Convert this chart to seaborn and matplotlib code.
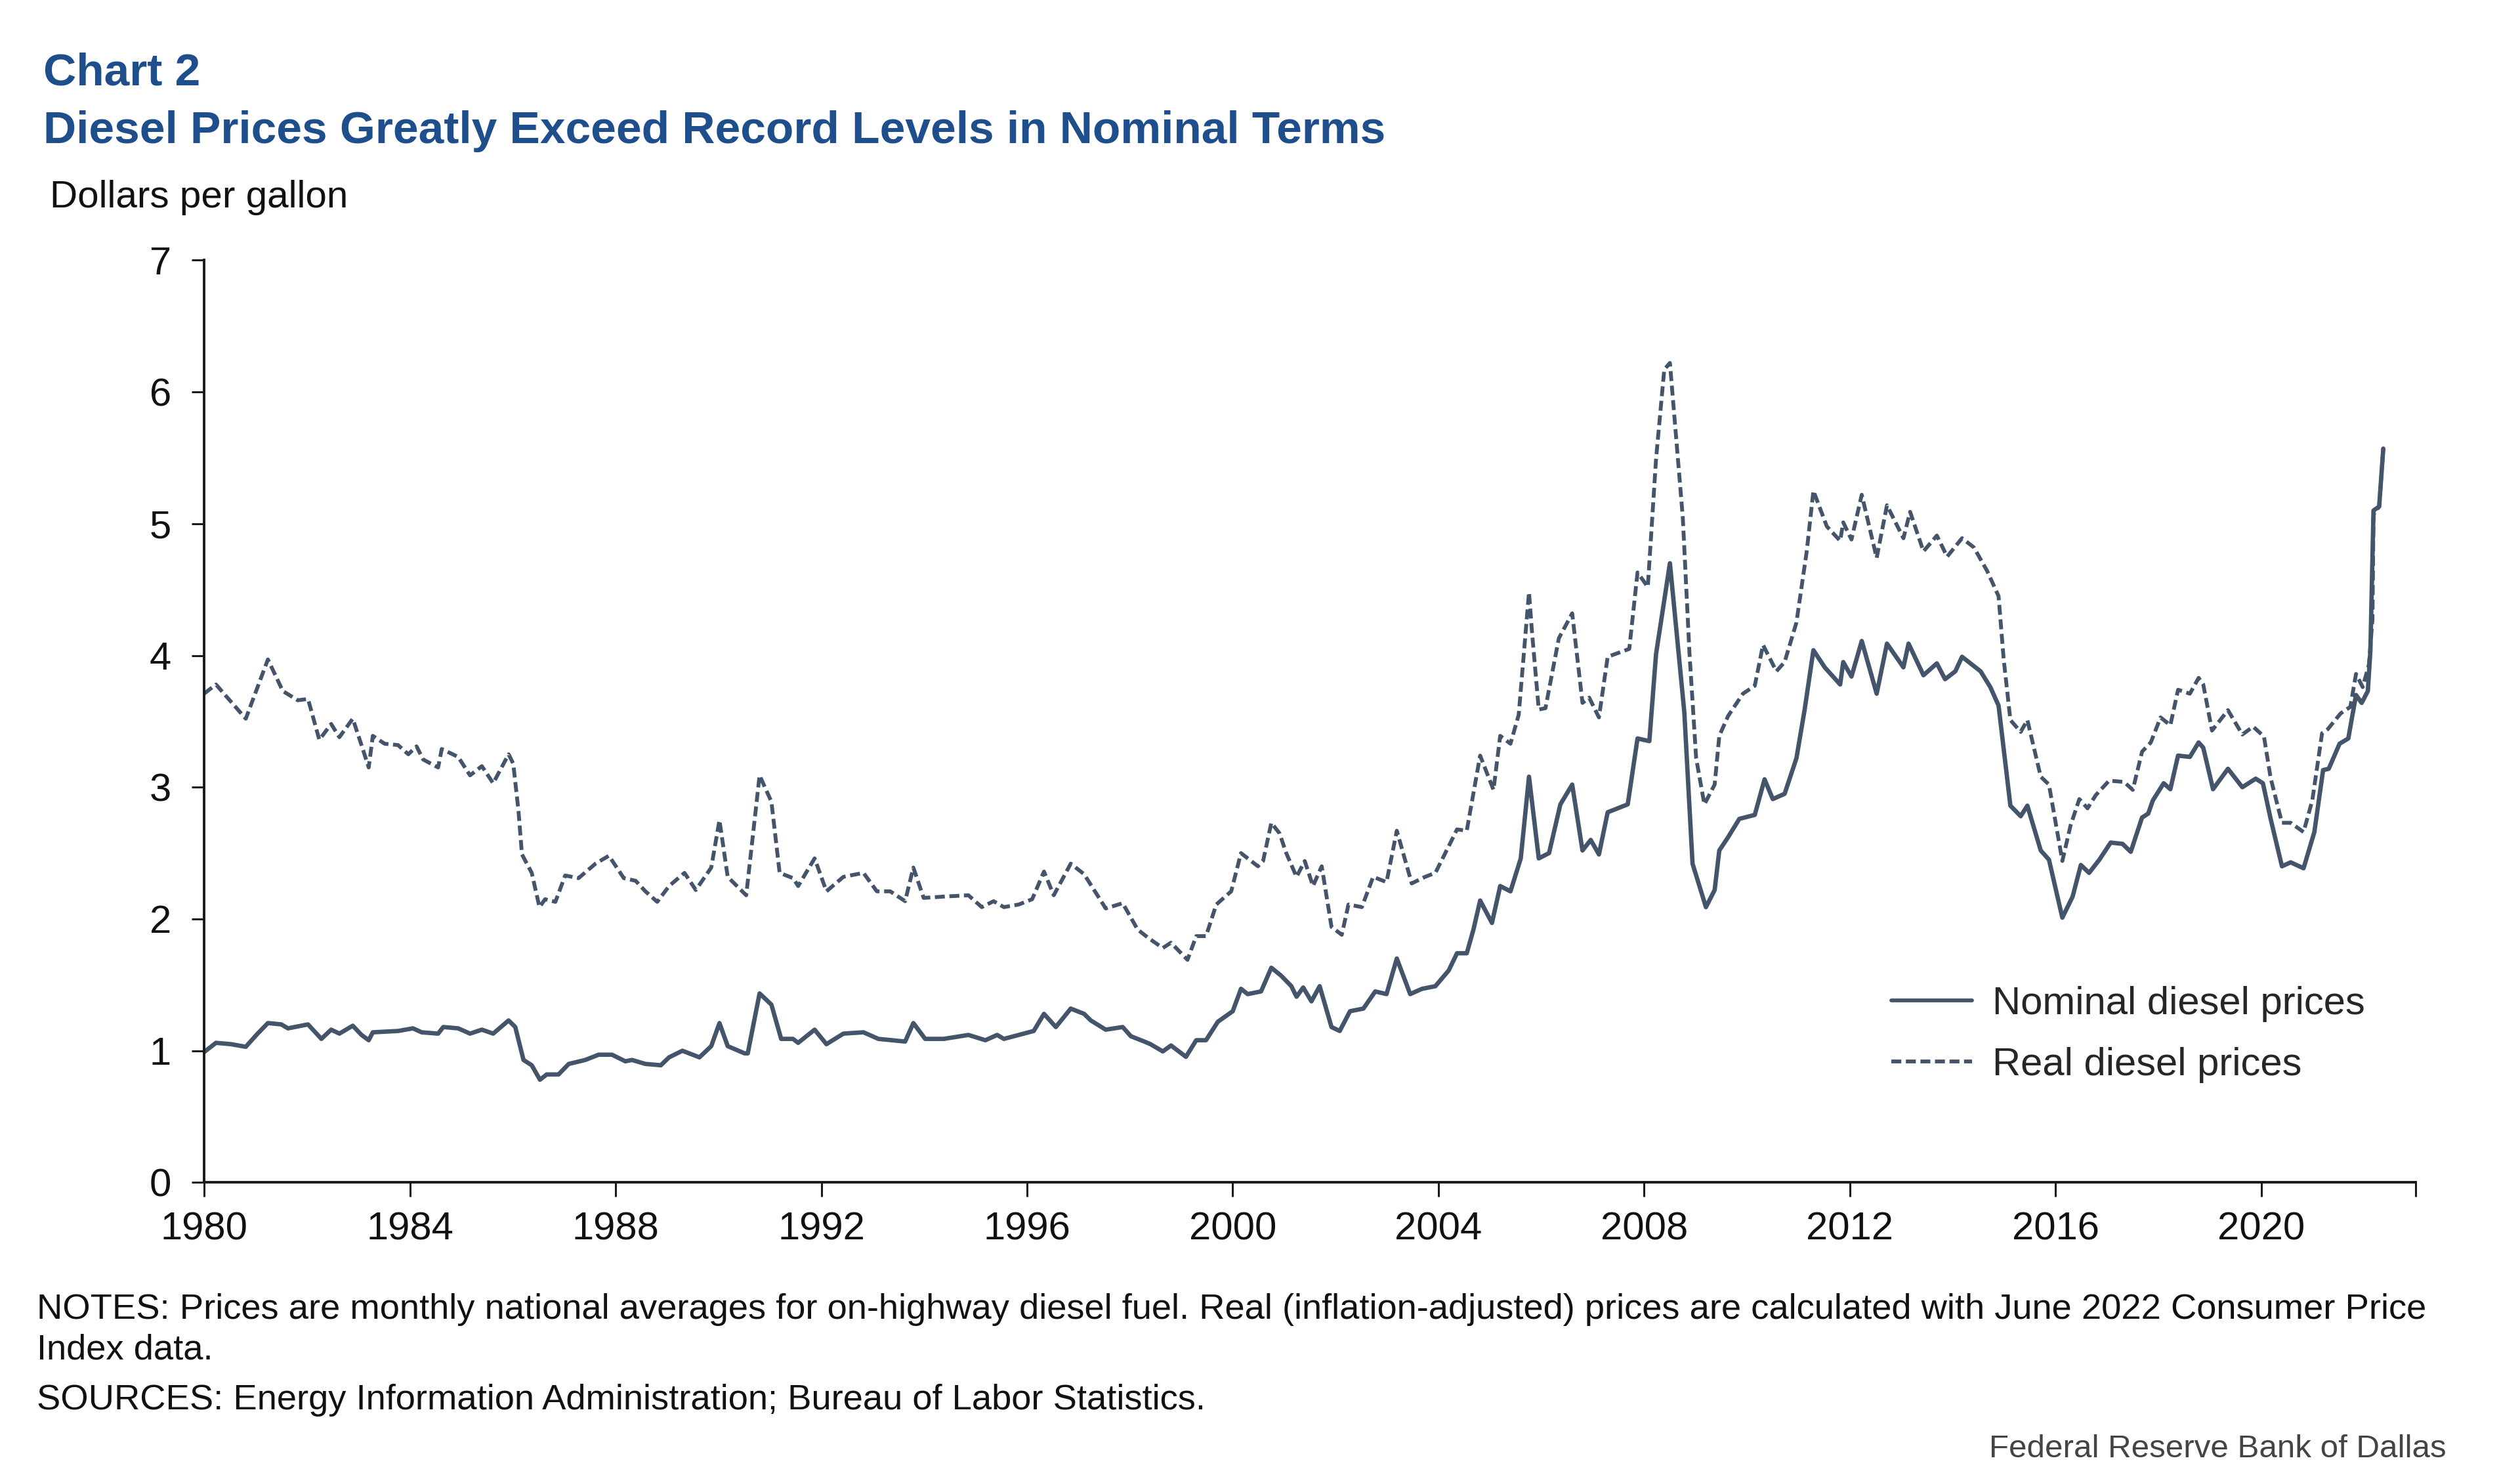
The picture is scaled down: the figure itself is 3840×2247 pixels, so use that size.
import numpy as np
import pandas as pd
import matplotlib
matplotlib.use("Agg")
import matplotlib.pyplot as plt
import seaborn as sns

# ---------------- data ----------------
nominal_years = [
    1980.0, 1980.23, 1980.52, 1980.81, 1981.04, 1981.24, 1981.5, 1981.63, 1982.02, 1982.28,
    1982.47, 1982.63, 1982.89, 1983.06, 1983.2, 1983.28, 1983.77, 1984.06, 1984.23, 1984.55,
    1984.65, 1984.94, 1985.17, 1985.40, 1985.62, 1985.92, 1986.05, 1986.21, 1986.37, 1986.53,
    1986.66, 1986.89, 1987.09, 1987.41, 1987.67, 1987.93, 1988.19, 1988.32, 1988.58, 1988.88,
    1989.04, 1989.3, 1989.63, 1989.86, 1990.02, 1990.18, 1990.51, 1990.57, 1990.8, 1991.03,
    1991.22, 1991.45, 1991.55, 1991.87, 1992.10, 1992.43, 1992.82, 1993.11, 1993.63, 1993.79,
    1994.02, 1994.38, 1994.86, 1995.19, 1995.42, 1995.55, 1996.13, 1996.33, 1996.56, 1996.85,
    1997.11, 1997.24, 1997.53, 1997.86, 1998.02, 1998.28, 1998.40, 1998.64, 1998.8, 1999.09,
    1999.29, 1999.48, 1999.71, 2000.0, 2000.16, 2000.29, 2000.55, 2000.75, 2000.94, 2001.14,
    2001.24, 2001.37, 2001.53, 2001.69, 2001.92, 2002.08, 2002.28, 2002.54, 2002.77, 2002.99,
    2003.19, 2003.45, 2003.68, 2003.94, 2004.2, 2004.36, 2004.55, 2004.68, 2004.81, 2005.04,
    2005.20, 2005.40, 2005.60, 2005.76, 2005.95, 2006.15, 2006.37, 2006.60, 2006.80, 2006.96,
    2007.12, 2007.29, 2007.68, 2007.87, 2008.10, 2008.23, 2008.50, 2008.78, 2008.94, 2009.20,
    2009.37, 2009.46, 2009.63, 2009.85, 2010.15, 2010.34, 2010.50, 2010.73, 2010.96, 2011.12,
    2011.29, 2011.51, 2011.81, 2011.87, 2012.03, 2012.23, 2012.52, 2012.72, 2013.04, 2013.14,
    2013.43, 2013.69, 2013.85, 2014.05, 2014.18, 2014.54, 2014.73, 2014.89, 2015.12, 2015.32,
    2015.45, 2015.71, 2015.87, 2016.13, 2016.33, 2016.49, 2016.65, 2016.85, 2017.07, 2017.30,
    2017.46, 2017.68, 2017.80, 2017.89, 2018.10, 2018.23, 2018.38, 2018.61, 2018.78, 2018.87,
    2019.06, 2019.35, 2019.63, 2019.89, 2020.03, 2020.18, 2020.40, 2020.57, 2020.82, 2021.03,
    2021.20, 2021.31, 2021.52, 2021.69, 2021.80, 2021.84, 2021.95, 2022.07, 2022.12, 2022.18,
    2022.29, 2022.37,
]
nominal_prices = [
    0.99, 1.06, 1.05, 1.03, 1.13, 1.21, 1.20, 1.17, 1.20, 1.09,
    1.16, 1.13, 1.19, 1.12, 1.08, 1.14, 1.15, 1.17, 1.14, 1.13,
    1.18, 1.17, 1.13, 1.16, 1.13, 1.23, 1.18, 0.93, 0.89, 0.78,
    0.82, 0.82, 0.90, 0.93, 0.97, 0.97, 0.92, 0.93, 0.90, 0.89,
    0.95, 1.00, 0.95, 1.035, 1.21, 1.035, 0.98, 0.98, 1.435, 1.35,
    1.09, 1.09, 1.06, 1.16, 1.05, 1.13, 1.14, 1.09, 1.07, 1.21,
    1.09, 1.09, 1.12, 1.08, 1.12, 1.09, 1.15, 1.28, 1.18, 1.32,
    1.28, 1.23, 1.16, 1.18, 1.11, 1.07, 1.05, 0.995, 1.04, 0.954,
    1.08, 1.08, 1.22, 1.30, 1.47, 1.43, 1.45, 1.63, 1.57, 1.49,
    1.41, 1.48, 1.375, 1.49, 1.18, 1.15, 1.30, 1.32, 1.45, 1.43,
    1.70, 1.43, 1.47, 1.49, 1.61, 1.74, 1.74, 1.92, 2.14, 1.97,
    2.25, 2.21, 2.46, 3.08, 2.46, 2.50, 2.87, 3.02, 2.52, 2.60,
    2.49, 2.81, 2.87, 3.37, 3.35, 4.01, 4.70, 3.57, 2.42, 2.09,
    2.22, 2.52, 2.62, 2.76, 2.79, 3.06, 2.91, 2.95, 3.22, 3.59,
    4.04, 3.91, 3.78, 3.95, 3.84, 4.11, 3.71, 4.09, 3.91, 4.09,
    3.85, 3.94, 3.82, 3.88, 3.99, 3.88, 3.76, 3.62, 2.86, 2.78,
    2.86, 2.52, 2.45, 2.01, 2.17, 2.41, 2.35, 2.45, 2.58, 2.57,
    2.51, 2.77, 2.80, 2.90, 3.03, 2.985, 3.24, 3.23, 3.34, 3.30,
    2.985, 3.14, 3.00, 3.065, 3.03, 2.76, 2.40, 2.43, 2.385, 2.66,
    3.13, 3.14, 3.33, 3.37, 3.61, 3.70, 3.64, 3.73, 4.04, 5.10,
    5.13, 5.57,
]

real_years = [
    1980.0, 1980.23, 1980.81, 1981.24, 1981.53, 1981.82, 1982.02, 1982.24, 1982.47, 1982.63,
    1982.89, 1983.06, 1983.2, 1983.28, 1983.51, 1983.77, 1983.97, 1984.13, 1984.26, 1984.55,
    1984.62, 1984.94, 1985.17, 1985.40, 1985.62, 1985.92, 1986.01, 1986.11, 1986.18, 1986.37,
    1986.52, 1986.63, 1986.83, 1987.02, 1987.28, 1987.61, 1987.87, 1988.16, 1988.39, 1988.58,
    1988.81, 1989.04, 1989.34, 1989.56, 1989.86, 1990.02, 1990.18, 1990.54, 1990.8, 1991.03,
    1991.19, 1991.45, 1991.55, 1991.87, 1992.10, 1992.43, 1992.82, 1993.08, 1993.34, 1993.63,
    1993.79, 1993.99, 1994.38, 1994.86, 1995.12, 1995.35, 1995.55, 1995.84, 1996.10, 1996.33,
    1996.52, 1996.85, 1997.11, 1997.53, 1997.86, 1998.15, 1998.38, 1998.64, 1998.8, 1999.12,
    1999.29, 1999.48, 1999.68, 1999.97, 2000.16, 2000.49, 2000.59, 2000.75, 2000.91, 2001.04,
    2001.24, 2001.40, 2001.56, 2001.73, 2001.92, 2002.12, 2002.25, 2002.51, 2002.73, 2002.99,
    2003.19, 2003.48, 2003.74, 2003.94, 2004.26, 2004.36, 2004.55, 2004.81, 2005.07, 2005.20,
    2005.40, 2005.56, 2005.76, 2005.82, 2005.95, 2006.08, 2006.34, 2006.60, 2006.80, 2006.93,
    2007.12, 2007.29, 2007.71, 2007.87, 2008.07, 2008.23, 2008.39, 2008.50, 2008.75, 2008.88,
    2009.01, 2009.17, 2009.37, 2009.46, 2009.63, 2009.92, 2010.15, 2010.31, 2010.57, 2010.73,
    2010.96, 2011.16, 2011.29, 2011.55, 2011.81, 2011.87, 2012.03, 2012.23, 2012.52, 2012.72,
    2013.04, 2013.17, 2013.43, 2013.69, 2013.89, 2014.18, 2014.41, 2014.67, 2014.89, 2014.99,
    2015.12, 2015.32, 2015.45, 2015.71, 2015.87, 2016.13, 2016.29, 2016.46, 2016.62, 2016.78,
    2017.04, 2017.33, 2017.50, 2017.68, 2017.85, 2018.04, 2018.23, 2018.38, 2018.61, 2018.78,
    2018.87, 2019.04, 2019.35, 2019.63, 2019.84, 2020.05, 2020.18, 2020.40, 2020.57, 2020.82,
    2020.99, 2021.18, 2021.29, 2021.54, 2021.73, 2021.84, 2021.97, 2022.09, 2022.16, 2022.18,
    2022.29, 2022.37,
]
real_prices = [
    3.71, 3.78, 3.52, 3.97, 3.73, 3.66, 3.67, 3.36, 3.48, 3.38,
    3.52, 3.32, 3.15, 3.39, 3.33, 3.32, 3.25, 3.31, 3.21, 3.15,
    3.29, 3.23, 3.09, 3.16, 3.03, 3.25, 3.18, 2.83, 2.49, 2.35,
    2.09, 2.15, 2.13, 2.33, 2.31, 2.42, 2.48, 2.31, 2.29, 2.21,
    2.13, 2.25, 2.35, 2.22, 2.39, 2.75, 2.32, 2.18, 3.09, 2.89,
    2.35, 2.31, 2.25, 2.46, 2.21, 2.32, 2.35, 2.21, 2.21, 2.135,
    2.39, 2.16, 2.17, 2.18, 2.09, 2.135, 2.09, 2.11, 2.15, 2.36,
    2.18, 2.42, 2.34, 2.08, 2.12, 1.92, 1.85, 1.78, 1.82, 1.69,
    1.87, 1.87, 2.11, 2.21, 2.50, 2.40, 2.44, 2.73, 2.65, 2.50,
    2.32, 2.44, 2.25, 2.40, 1.94, 1.88, 2.11, 2.09, 2.32, 2.28,
    2.67, 2.27, 2.32, 2.35, 2.60, 2.68, 2.67, 3.24, 2.98, 3.39,
    3.33, 3.55, 4.48, 4.17, 3.59, 3.60, 4.13, 4.32, 3.64, 3.68,
    3.53, 3.99, 4.05, 4.63, 4.52, 5.49, 6.17, 6.22, 5.05, 4.02,
    3.22, 2.87, 3.02, 3.39, 3.54, 3.71, 3.77, 4.08, 3.88, 3.95,
    4.25, 4.79, 5.25, 4.98, 4.87, 5.01, 4.88, 5.22, 4.74, 5.14,
    4.89, 5.09, 4.79, 4.91, 4.75, 4.89, 4.82, 4.64, 4.45, 3.97,
    3.51, 3.42, 3.51, 3.08, 3.02, 2.44, 2.71, 2.91, 2.84, 2.94,
    3.05, 3.04, 2.98, 3.27, 3.34, 3.53, 3.47, 3.74, 3.71, 3.83,
    3.78, 3.43, 3.585, 3.40, 3.46, 3.385, 3.07, 2.73, 2.73, 2.66,
    2.90, 3.41, 3.44, 3.56, 3.61, 3.86, 3.76, 3.93, 4.27, 5.07,
    5.13, 5.57,
]

series_labels = ["Nominal diesel prices", "Real diesel prices"]
x_tick_years = [1980, 1984, 1988, 1992, 1996, 2000, 2004, 2008, 2012, 2016, 2020]
y_ticks = [0, 1, 2, 3, 4, 5, 6, 7]

title_top = "Chart 2"
title_main = "Diesel Prices Greatly Exceed Record Levels in Nominal Terms"
y_label = "Dollars per gallon"
notes_1 = ("NOTES: Prices are monthly national averages for on-highway diesel fuel. "
           "Real (inflation-adjusted) prices are calculated with June 2022 Consumer Price")
notes_2 = "Index data."
sources = "SOURCES: Energy Information Administration; Bureau of Labor Statistics."
credit = "Federal Reserve Bank of Dallas"

# ---------------- style ----------------
sns.set_style("white")
plt.rcParams["font.family"] = ["Liberation Sans", "DejaVu Sans"]

LINE = "#44546A"
TITLE = "#1F4E8C"
AXIS = "#1a1a1a"

fig = plt.figure(figsize=(38.4, 22.47), dpi=100)
ax = fig.add_axes([0.0810, 0.1983, 0.8776, 0.6253])

nom_df = pd.DataFrame({"year": nominal_years, "price": nominal_prices})
real_df = pd.DataFrame({"year": real_years, "price": real_prices})

sns.lineplot(data=nom_df, x="year", y="price", ax=ax, color=LINE, linewidth=4.8,
             estimator=None, sort=False, label=series_labels[0])
sns.lineplot(data=real_df, x="year", y="price", ax=ax, color=LINE, linewidth=4.2,
             estimator=None, sort=False, label=series_labels[1])
ax.lines[1].set_dashes((2.6, 1.2))

ax.set_xlim(1980, 2023)
ax.set_ylim(0, 7)
ax.set_xticks(x_tick_years)
ax.set_xticklabels([str(y) for y in x_tick_years])
ax.set_xticks([2023], minor=True)
ax.set_yticks(y_ticks)
ax.set_yticklabels([str(v) for v in y_ticks])
ax.set_xlabel("")
ax.set_ylabel("")

for s in ["top", "right"]:
    ax.spines[s].set_visible(False)
for s in ["left", "bottom"]:
    ax.spines[s].set_color(AXIS)
    ax.spines[s].set_linewidth(2.8)

ax.tick_params(axis="y", which="major", direction="out", length=14, width=2.2,
               color=AXIS, labelsize=43, pad=22, left=True, labelcolor="#111111")
ax.tick_params(axis="x", which="both", direction="out", length=16, width=2.2,
               color=AXIS, labelsize=43, pad=16, bottom=True, labelcolor="#111111")

leg = ax.legend(loc="upper left", bbox_to_anchor=(0.763, 0.213), frameon=False,
                fontsize=43, handlelength=2.05, handletextpad=0.53, labelspacing=0.64,
                borderpad=0, borderaxespad=0)
for h in leg.get_lines():
    h.set_linewidth(4.2)

# ---------------- texts ----------------
fig.text(0.0172, 0.9423, title_top, fontsize=50, fontweight="bold", color=TITLE, va="baseline")
fig.text(0.0172, 0.9031, title_main, fontsize=50, fontweight="bold", color=TITLE, va="baseline")
fig.text(0.0198, 0.8595, y_label, fontsize=42, color="#111111", va="baseline")
fig.text(0.0147, 0.1057, notes_1, fontsize=39.2, color="#111111", va="baseline")
fig.text(0.0147, 0.0784, notes_2, fontsize=39.2, color="#111111", va="baseline")
fig.text(0.0147, 0.0447, sources, fontsize=39.2, color="#111111", va="baseline")
fig.text(0.9707, 0.0120, credit, fontsize=35.5, color="#444444", va="baseline", ha="right")

fig.savefig("out.png", dpi=100, facecolor="white")
